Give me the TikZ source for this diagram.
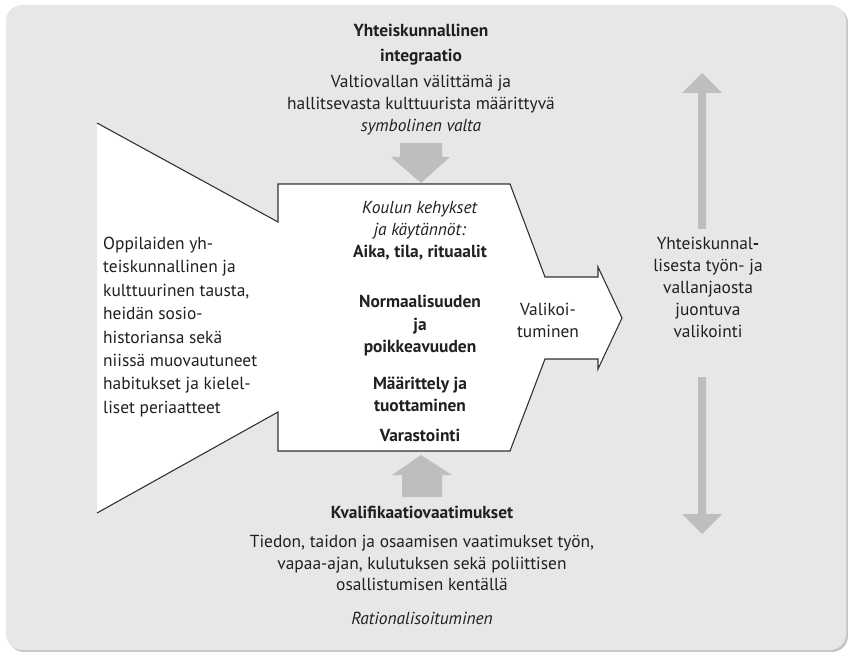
\documentclass[tikz,border=0pt]{standalone}
\usepackage{fontspec}
\setmainfont{PT Sans}
\definecolor{bg}{HTML}{E6E7E8}
\definecolor{arr}{HTML}{BCBEC0}
\definecolor{txt}{HTML}{231F20}
\tikzset{
  lbl/.style={text=txt, align=center, inner sep=0pt, font=\fontsize{17.4}{22}\selectfont},
  outline/.style={draw=black!80, line width=1.1pt, line join=miter},
  blockarrow/.style={fill=arr}
}
\begin{document}
\begin{tikzpicture}[x=1pt,y=-1pt]
\useasboundingbox (0,0) rectangle (848,652);
% background panel
\fill[black!22, rounded corners=16] (8,7) rectangle (848,652);
\fill[bg, rounded corners=16] (6,5) rectangle (846,650);
% main shape corner points
\coordinate (A) at (97,123);
\coordinate (B) at (278,222);
\coordinate (C) at (278,184);
\coordinate (D) at (510,184);
\coordinate (E) at (545,277);
\coordinate (F) at (598,277);
\coordinate (G) at (598,267);
\coordinate (H) at (622,318);
\coordinate (I) at (598,369);
\coordinate (J) at (598,359);
\coordinate (K) at (545,359);
\coordinate (L) at (510,451);
\coordinate (M) at (278,451);
\coordinate (N) at (278,412);
\coordinate (O) at (97,513);
% bottom up arrow (under shadow)
\fill[blockarrow] (402,497) -- (442,497) -- (442,475) -- (452,475) -- (421,455) -- (392,475) -- (402,475) -- cycle;
% shadow
\fill[arr, shift={(6,7)}] (A) -- (B) -- (C) -- (D) -- (E) -- (F) -- (G) -- (H) -- (I) -- (J) -- (K) -- (L) -- (M) -- (N) -- (O) -- cycle;
% white shape
\fill[white] (A) -- (B) -- (C) -- (D) -- (E) -- (F) -- (G) -- (H) -- (I) -- (J) -- (K) -- (L) -- (M) -- (N) -- (O) -- cycle;
\draw[outline] (A) -- (B) -- (C) -- (D) -- (E) -- (F) -- (G) -- (H) -- (I) -- (J) -- (K) -- (L) -- (M) -- (N) -- (O);
% top down arrow
\fill[blockarrow] (400,143) -- (442,143) -- (442,157) -- (450,157) -- (421,183) -- (391,157) -- (400,157) -- cycle;
% right vertical arrows
\fill[blockarrow] (698,229) -- (706,229) -- (706,93) -- (722,93) -- (702,73) -- (682,93) -- (698,93) -- cycle;
\fill[blockarrow] (698,377) -- (706,377) -- (706,514) -- (722,514) -- (702,534) -- (682,514) -- (698,514) -- cycle;
% texts
\node[lbl, font=\fontsize{17.4}{25}\selectfont\bfseries] (title) at (421,45) {Yhteiskunnallinen\\integraatio};
\node[lbl] (sub) at (421,105) {Valtiovallan välittämä ja\\hallitsevasta kulttuurista määrittyvä\\\textit{symbolinen valta}};
\node[lbl, align=left, anchor=west, font=\fontsize{17.4}{23.4}\selectfont] (left) at (103,327) {Oppilaiden yh-\\teiskunnallinen ja\\kulttuurinen tausta,\\heidän sosio-\\historiansa sekä\\niissä muovautuneet\\habitukset ja kielel-\\liset periaatteet};
\node[lbl] (koulu) at (420,231) {\textit{Koulun kehykset}\\\textit{ja käytännöt:}\\\textbf{Aika, tila, rituaalit}};
\node[lbl, font=\fontsize{17.4}{22.5}\selectfont\bfseries] (norm) at (420,326) {Normaalisuuden\\ja\\poikkeavuuden};
\node[lbl, font=\fontsize{17.4}{22}\selectfont\bfseries] (maar) at (420,394) {Määrittely ja\\tuottaminen};
\node[lbl, font=\fontsize{17.4}{22}\selectfont\bfseries] (vara) at (420,435) {Varastointi};
\node[lbl] (valik) at (548,320) {Valikoi-\\tuminen};
\node[lbl] (right) at (708,287) {Yhteiskunnal\textbf{-}\\lisesta työn- ja\\vallanjaosta\\juontuva\\valikointi};
\node[lbl, font=\fontsize{17.4}{22}\selectfont\bfseries] (kval) at (422,512) {Kvalifikaatiovaatimukset};
\node[lbl, font=\fontsize{17.4}{21.5}\selectfont] (tiedon) at (422,563) {Tiedon, taidon ja osaamisen vaatimukset työn,\\vapaa-ajan, kulutuksen sekä poliittisen\\osallistumisen kentällä};
\node[lbl] (rat) at (422,618) {\textit{Rationalisoituminen}};
\end{tikzpicture}
\end{document}
